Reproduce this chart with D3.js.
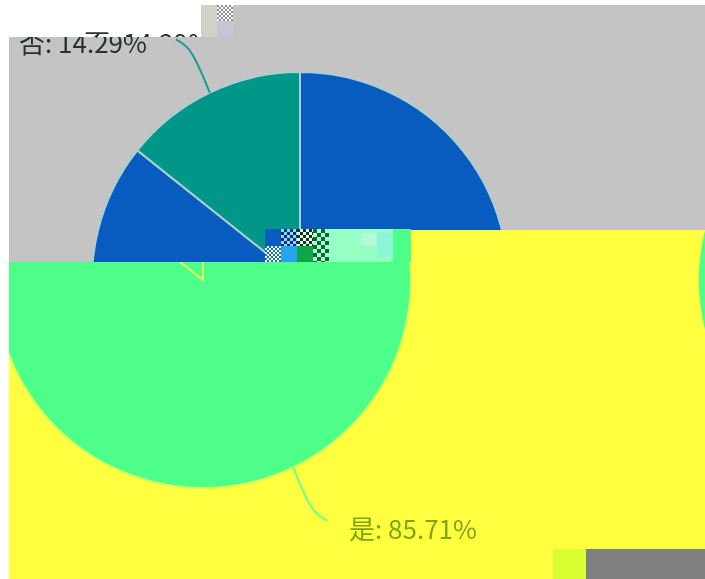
<!DOCTYPE html>
<html>
<head>
<meta charset="utf-8">
<script src="https://cdn.jsdelivr.net/npm/d3@7"></script>
<style>
  html, body { margin: 0; padding: 0; background: #fff; }
  svg { display: block; }
  text { font-family: "Noto Sans CJK SC", "Noto Sans", sans-serif; }
</style>
</head>
<body>
<svg id="chart"></svg>
<script>
// Chart data
const categories = ["是", "否"];
const values = [85.71, 14.29];

const width = 705;
const height = 579;
const svg = d3.select("#chart").attr("width", width).attr("height", height);
const defs = svg.append("defs");

// The picture is a broken render: same pie drawn in a few shifted blocks
const radius = 208;
const centerY = 280;
const pieColors = d3.scaleOrdinal().domain(categories).range(["#085cc0", "#009688"]);
const slices = d3.pie().sort(null).value(d => d)(values);
const arc = d3.arc().innerRadius(0).outerRadius(radius);

defs.append("filter").attr("id", "soft")
  .append("feGaussianBlur").attr("stdDeviation", 0.45);

function addClip(id, x, y, w, h) {
  defs.append("clipPath").attr("id", id)
    .append("rect").attr("x", x).attr("y", y).attr("width", w).attr("height", h);
}
addClip("clipTop", 9, 37, 696, 225);
addClip("clipBottom", 9, 262, 696, 317);
addClip("clipRightEdge", 410, 230, 295, 349);
addClip("clipBand", 0, 0, 201, 37);

function block(x, y, w, h, fill) {
  return svg.append("rect").attr("x", x).attr("y", y).attr("width", w).attr("height", h).attr("fill", fill);
}

// Small noisy tile, drawn as a pattern of cells
function noiseTile(id, x, y, w, h, cell, colorA, colorB) {
  const pattern = defs.append("pattern").attr("id", id)
    .attr("patternUnits", "userSpaceOnUse")
    .attr("x", x).attr("y", y).attr("width", cell * 2).attr("height", cell * 2);
  pattern.append("rect").attr("width", cell * 2).attr("height", cell * 2).attr("fill", colorA);
  pattern.append("rect").attr("width", cell).attr("height", cell).attr("fill", colorB);
  pattern.append("rect").attr("x", cell).attr("y", cell).attr("width", cell).attr("height", cell).attr("fill", colorB);
  block(x, y, w, h, `url(#${id})`);
}

// Label line for a slice, leaves the rim then bends towards its label
const lineGen = d3.line().curve(d3.curveCatmullRom.alpha(0.5));
function labelLinePoints(slice, cx) {
  const mid = (slice.startAngle + slice.endAngle) / 2;
  const side = Math.sin(mid) < 0 ? -1 : 1;
  const rim = d3.pointRadial(mid, radius);
  const elbow = d3.pointRadial(mid, radius + 48);
  return [
    [cx + rim[0], centerY + rim[1]],
    [cx + elbow[0], centerY + elbow[1]],
    [cx + elbow[0] + side * 13, centerY + elbow[1] + (mid > Math.PI / 2 && mid < Math.PI * 1.5 ? 10 : -10)]
  ];
}

// Grey blocks
block(9, 37, 696, 225, "#c4c4c4");
block(201, 5, 504, 32, "#c4c4c4");
block(201, 5, 16, 32, "#d0d2c8");
noiseTile("tileTop", 217, 5, 16, 16, 2, "#ffffff", "#8d8d98");
block(217, 21, 16, 16, "#c6c6d2");

// Upper pie, blue and teal
svg.append("g").attr("clip-path", "url(#clipTop)")
  .selectAll("path")
  .data(slices)
  .join("path")
  .attr("transform", `translate(300,${centerY})`)
  .attr("d", arc)
  .attr("fill", d => pieColors(categories[d.index]))
  .attr("stroke", "#a9cfd6")
  .attr("stroke-width", 2);

// Label line and text of the small slice
svg.append("path")
  .attr("d", lineGen(labelLinePoints(slices[1], 300)))
  .attr("fill", "none")
  .attr("stroke", "#1f9c90")
  .attr("stroke-width", 2)
  .attr("clip-path", "url(#clipTop)");

function tealLabel(x, clipId) {
  svg.append("g").attr("clip-path", `url(#${clipId})`)
    .append("text")
    .attr("x", x)
    .attr("y", 53)
    .attr("font-size", 26)
    .attr("fill", "#26332f")
    .attr("filter", "url(#soft)")
    .text(`${categories[1]}: ${values[1].toFixed(2)}%`);
}
tealLabel(19, "clipTop");
tealLabel(84, "clipBand");

// Yellow lower block with the pie repeated in green
block(9, 262, 696, 317, "#ffff40");
block(410, 230, 295, 32, "#ffff40");

svg.append("g").attr("clip-path", "url(#clipBottom)")
  .selectAll("path")
  .data(slices)
  .join("path")
  .attr("transform", `translate(203,${centerY})`)
  .attr("d", arc)
  .attr("fill", "#4dff88")
  .attr("stroke", "#d9ff55")
  .attr("stroke-width", 2);

// Piece of the next repeat at the right edge
svg.append("g").attr("clip-path", "url(#clipRightEdge)")
  .selectAll("path")
  .data(slices)
  .join("path")
  .attr("transform", `translate(907,${centerY})`)
  .attr("d", arc)
  .attr("fill", "#4dff88");

// Label line and text of the big slice
svg.append("path")
  .attr("d", lineGen(labelLinePoints(slices[0], 203)))
  .attr("fill", "none")
  .attr("stroke", "#66ff99")
  .attr("stroke-width", 2);

svg.append("text")
  .attr("x", 349)
  .attr("y", 539)
  .attr("font-size", 26)
  .attr("fill", "#7fa514")
  .attr("filter", "url(#soft)")
  .text(`${categories[0]}: ${values[0].toFixed(2)}%`);

// Noisy tiles across the middle
block(265, 229, 16, 17, "#085cc0");
noiseTile("tileA", 265, 246, 16, 16, 2, "#ffffff", "#1670c8");
noiseTile("tileB", 281, 229, 16, 17, 3, "#0c2f80", "#8fd6f0");
block(281, 246, 16, 16, "#27a3ee");
noiseTile("tileC", 297, 229, 16, 17, 3, "#f0fff0", "#063d1c");
block(297, 246, 16, 16, "#0aa84a");
noiseTile("tileD", 313, 229, 16, 33, 4, "#a8ffd0", "#0c6a30");
block(329, 229, 64, 33, "#96ffc4");
block(361, 233, 16, 12, "#b4f8d8");
block(377, 233, 16, 24, "#8cf5d8");
block(393, 229, 18, 33, "#4dff88");

// Bottom right corner
block(586, 549, 119, 30, "#808080");
noiseTile("tileCorner", 553, 549, 33, 30, 8, "#d8ff30", "#d8ff30");
</script>
</body>
</html>
